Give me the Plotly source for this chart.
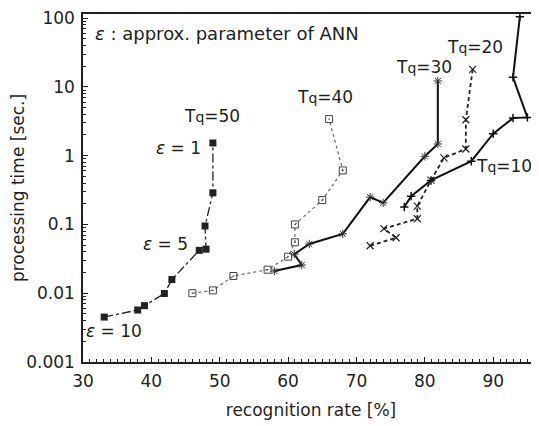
import numpy as np
import plotly.graph_objects as go

# Data
tq50_x = [33.1, 38.0, 39.0, 41.9, 43.0, 47.0, 48.0, 47.85, 49.0, 49.0]
tq50_y = [0.0045, 0.0057, 0.0066, 0.0099, 0.0158, 0.042, 0.0437, 0.095, 0.288, 1.53]

tq40_x = [46.0, 49.0, 52.0, 57.0, 60.0, 61.0, 61.0, 65.0, 68.0, 66.0]
tq40_y = [0.0100, 0.0110, 0.0178, 0.022, 0.034, 0.055, 0.10, 0.226, 0.61, 3.40]

tq30_x = [58.0, 62.0, 60.9, 63.1, 68.0, 72.0, 73.9, 80.0, 81.9, 81.9]
tq30_y = [0.021, 0.0257, 0.037, 0.052, 0.073, 0.25, 0.206, 0.98, 1.48, 12.2]

tq20_x = [72.0, 75.8, 74.0, 78.9, 78.9, 80.9, 82.8, 86.0, 86.0, 87.0]
tq20_y = [0.049, 0.064, 0.087, 0.121, 0.185, 0.44, 0.93, 1.25, 3.33, 18.0]

tq10_x = [77.0, 78.0, 80.9, 86.8, 90.0, 92.9, 95.0, 92.9, 93.9]
tq10_y = [0.179, 0.258, 0.436, 0.83, 2.09, 3.52, 3.6, 13.8, 105.0]

y_tickvals = [0.001, 0.01, 0.1, 1, 10, 100]
y_ticktext = ["0.001", "0.01", "0.1", "1", "10", "100"]
x_tickvals = [30, 40, 50, 60, 70, 80, 90]

FONT = "DejaVu Sans, Arial, sans-serif"
INK = "#231f20"

fig = go.Figure()

fig.add_trace(go.Scatter(x=tq40_x, y=tq40_y, mode="lines+markers",
    line=dict(color="#666666", width=1.2, dash="dot"),
    marker=dict(symbol="square-open-dot", size=7, color="#444444", line=dict(width=1))))
fig.add_trace(go.Scatter(x=tq50_x, y=tq50_y, mode="lines+markers",
    line=dict(color="#222222", width=1.3, dash="dashdot"),
    marker=dict(symbol="square", size=7, color="#222222")))
fig.add_trace(go.Scatter(x=tq30_x, y=tq30_y, mode="lines+markers",
    line=dict(color="#111111", width=2),
    marker=dict(symbol="asterisk-open", size=7, color="#333333", line=dict(width=1))))
fig.add_trace(go.Scatter(x=tq20_x, y=tq20_y, mode="lines+markers",
    line=dict(color="#222222", width=1.8, dash="4px,3px"),
    marker=dict(symbol="x-thin-open", size=7, color="#222222", line=dict(width=1.2))))
fig.add_trace(go.Scatter(x=tq10_x, y=tq10_y, mode="lines+markers",
    line=dict(color="#111111", width=2),
    marker=dict(symbol="cross-thin-open", size=6, color="#111111", line=dict(width=1.5))))

minor_y = [m * 10.0 ** e for e in range(-3, 2) for m in range(2, 10)]

fig.update_layout(
    width=531, height=418,
    margin=dict(l=75, r=0, t=4, b=64),
    paper_bgcolor="white", plot_bgcolor="white",
    showlegend=False,
    font=dict(family=FONT, size=17, color=INK),
    xaxis=dict(range=[30, 96.7], tickvals=x_tickvals, ticks="inside", ticklen=5,
               tickcolor=INK, showline=True, linecolor=INK, linewidth=1.5,
               mirror=True, showgrid=False, zeroline=False,
               ticklabelstandoff=3,
               minor=dict(dtick=1, ticks="inside", ticklen=3, tickcolor=INK),
               title=dict(text="recognition rate [%]", standoff=14, font=dict(size=17)),
               tickfont=dict(size=17)),
    yaxis=dict(type="log", range=[-3, 2.06], tickvals=y_tickvals, ticktext=y_ticktext,
               ticks="inside", ticklen=5, tickcolor=INK,
               showline=True, linecolor=INK, linewidth=1.5, mirror=False,
               showgrid=False, zeroline=False,
               ticklabeloverflow="allow", ticklabelstandoff=3,
               minor=dict(tickvals=minor_y, ticks="inside", ticklen=3, tickcolor=INK),
               title=dict(text="processing time [sec.]", standoff=1, font=dict(size=17)),
               tickfont=dict(size=17)),
)

TQ = "T<span style='font-size:14px'>q</span>"
labels = [
    (TQ + "=50", 48.86, 3.72),
    ("<i>ε</i> = 1", 43.9, 1.28),
    ("<i>ε</i> = 5", 42.1, 0.052),
    ("<i>ε</i> = 10", 34.5, 0.00278),
    (TQ + "=40", 65.4, 7.2),
    (TQ + "=30", 79.85, 19.7),
    (TQ + "=20", 87.3, 38.3),
    (TQ + "=10", 91.6, 0.70),
]
for text, x, y in labels:
    fig.add_annotation(x=x, y=np.log10(y), text=text, showarrow=False,
                       font=dict(size=17, family=FONT), xanchor="center", yanchor="middle")

fig.add_annotation(x=31.4, y=np.log10(59), text="<i>ε</i> : approx. parameter of ANN",
                   showarrow=False, xanchor="left", yanchor="middle",
                   font=dict(size=18, family=FONT))

fig.write_html("out.html")
